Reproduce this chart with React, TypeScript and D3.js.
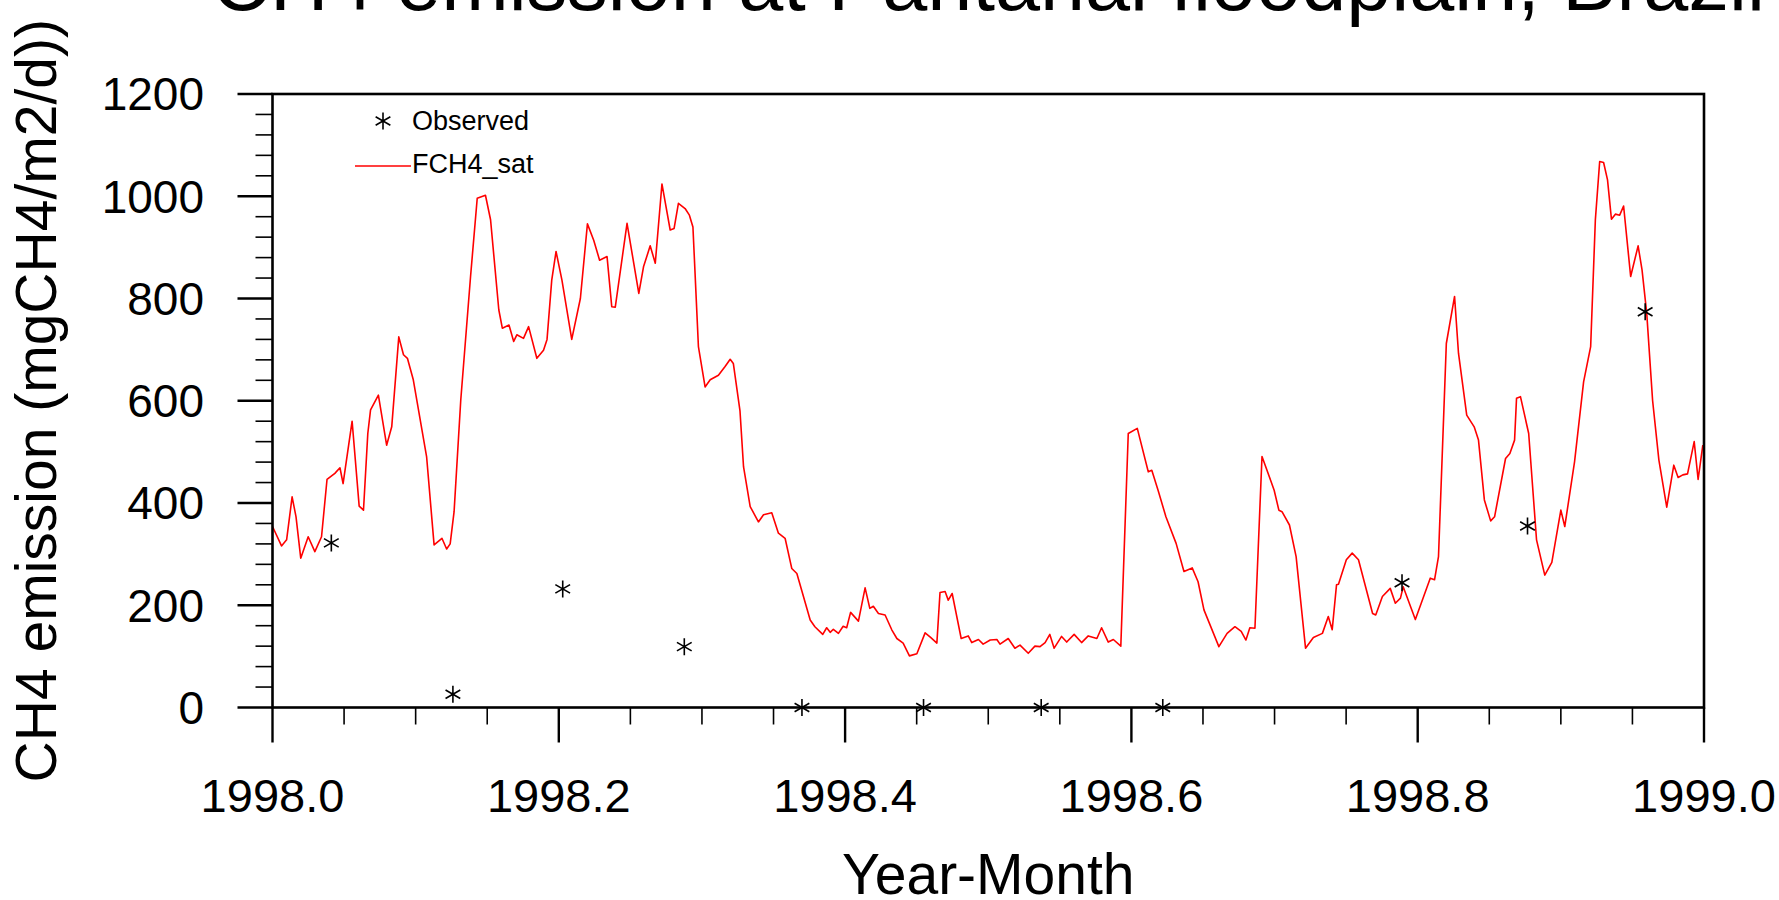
import React from "react";
import * as d3 from "d3";

// ---- Data ----
const fch4Day: number[] = [
  0, 2.3, 3.6, 5.0, 6.0, 7.2, 9.1, 10.8, 12.5, 13.9, 15.9, 17.2, 18.0, 20.3, 22.1, 23.2, 24.3, 25.0, 27.0, 29.1,
  30.4, 32.2, 33.4, 34.4, 35.9, 39.3, 41.2, 43.2, 44.4, 45.3, 46.3, 48.0, 50.5, 52.2, 54.3, 55.6, 57.7, 58.6, 60.3, 61.5,
  62.3, 64.0, 65.3, 67.4, 69.1, 70.0, 71.2, 72.3, 73.8, 76.3, 78.5, 80.3, 81.9, 83.4, 85.3, 86.5, 87.4, 90.4, 93.4, 94.6,
  96.3, 97.6, 99.3, 101.4, 102.4, 103.5, 105.2, 106.3, 107.2, 108.6, 110.3, 111.6, 113.7, 115.4, 116.7, 117.5, 119.2, 120.1, 121.8, 123.9,
  125.2, 127.3, 129.0, 130.7, 132.4, 133.7, 137.1, 138.3, 140.3, 141.3, 142.2, 143.0, 144.3, 145.5, 146.4, 147.4, 149.4, 151.1, 152.3, 153.2,
  154.5, 156.2, 157.9, 159.2, 160.8, 162.4, 164.3, 166.4, 167.8, 169.4, 170.2, 171.5, 172.3, 173.3, 175.6, 177.4, 178.3, 180.0, 181.2, 183.0,
  184.7, 185.5, 187.6, 189.3, 190.6, 192.7, 194.4, 195.7, 197.0, 198.2, 199.3, 201.2, 202.5, 204.4, 206.3, 208.0, 210.2, 211.4, 213.1, 214.4,
  216.3, 218.2, 220.5, 223.3, 224.2, 225.8, 227.8, 230.4, 232.4, 234.5, 236.0, 237.5, 241.3, 243.4, 245.4, 247.0, 248.2, 249.2, 250.5, 252.3,
  255.4, 256.6, 257.4, 259.3, 261.0, 263.4, 265.4, 267.7, 269.2, 270.2, 271.3, 271.8, 273.8, 275.3, 276.9, 280.5, 281.3, 283.0, 285.0, 286.3,
  287.6, 288.3, 291.4, 295.2, 296.3, 297.3, 299.3, 301.4, 302.4, 304.5, 306.4, 307.5, 309.0, 310.6, 311.6, 314.4, 315.5, 316.7, 317.2, 318.2,
  320.3, 322.3, 324.4, 326.2, 328.5, 329.5, 332.0, 334.3, 336.1, 337.3, 338.4, 339.4, 340.4, 341.4, 342.4, 343.5, 344.5, 346.3, 348.2, 349.2,
  350.4, 351.9, 353.5, 355.5, 357.3, 358.4, 359.6, 360.8, 362.5, 363.5, 364.7,
];
const fch4Value: number[] = [
  354, 316, 328, 412, 373, 292, 334, 305, 334, 446, 458, 469, 438, 560, 394, 386, 536, 582, 611, 513,
  549, 725, 690, 683, 641, 490, 318, 331, 310, 320, 383, 601, 843, 996, 1002, 954, 778, 742, 748, 716,
  729, 722, 745, 683, 699, 720, 836, 892, 836, 720, 800, 946, 914, 875, 882, 784, 783, 947, 810, 862,
  903, 869, 1024, 934, 937, 986, 976, 963, 940, 706, 627, 641, 650, 667, 681, 673, 580, 471, 393, 363,
  377, 381, 341, 331, 272, 262, 171, 158, 143, 156, 147, 153, 145, 159, 156, 186, 169, 234, 194, 198,
  184, 181, 152, 135, 126, 101, 105, 146, 137, 126, 225, 227, 210, 223, 135, 140, 127, 133, 124, 132,
  133, 124, 135, 116, 122, 106, 120, 119, 127, 143, 116, 139, 128, 143, 127, 140, 135, 156, 128, 133,
  120, 536, 546, 461, 464, 425, 373, 321, 266, 273, 246, 191, 119, 145, 158, 149, 132, 156, 155, 491,
  425, 386, 383, 357, 295, 116, 137, 145, 178, 152, 240, 241, 289, 302, 289, 184, 181, 217, 233, 204,
  214, 236, 172, 253, 250, 295, 712, 804, 693, 572, 549, 523, 406, 365, 373, 487, 497, 523, 605, 608,
  536, 328, 259, 284, 386, 354, 481, 637, 706, 954, 1068, 1066, 1032, 955, 965, 963, 981, 843, 903, 856,
  771, 600, 484, 392, 474, 450, 455, 457, 520, 446, 513,
];
const obsDay: number[] = [15, 46, 74, 105, 135, 166, 196, 227, 288, 320, 350];
const obsValue: number[] = [322, 26, 232, 119, 0, 0, 0, 0, 244, 355, 774];

const xMajorTicks: number[] = [1998.0, 1998.2, 1998.4, 1998.6, 1998.8, 1999.0];
const xTickLabels: string[] = ["1998.0", "1998.2", "1998.4", "1998.6", "1998.8", "1999.0"];
const xMinorStep = 0.05;
const yMajorTicks: number[] = [0, 200, 400, 600, 800, 1000, 1200];
const yMinorStep = 40;

const titleText = "CH4 emission at Pantanal floodplain, Brazil";
const xTitle = "Year-Month";
const yTitle = "CH4 emission (mgCH4/m2/d))";
const legendObs = "Observed";
const legendModel = "FCH4_sat";

// ---- Layout ----
const W = 1779;
const H = 900;
const L = 272.5;
const R = 1704;
const T = 94;
const B = 707.5;
const FONT = "'Liberation Sans', Arial, Helvetica, sans-serif";

function asteriskPath(cx: number, cy: number, r: number): string {
  const angles = [90, 30, -30].map((a) => (a * Math.PI) / 180);
  return angles
    .map((a) => {
      const dx = r * Math.cos(a);
      const dy = r * Math.sin(a);
      return `M${cx - dx},${cy - dy}L${cx + dx},${cy + dy}`;
    })
    .join("");
}

export default function App() {
  const x = d3.scaleLinear().domain([1998, 1999]).range([L, R]);
  const y = d3.scaleLinear().domain([0, 1200]).range([B, T]);
  const dayToYear = (d: number) => 1998 + d / 365;

  const linePts: [number, number][] = fch4Day.map((d, i) => [dayToYear(d), fch4Value[i]]);
  const lineGen = d3
    .line<[number, number]>()
    .x((p) => x(p[0]))
    .y((p) => y(p[1]));

  const xMinor = d3.range(1998, 1999.0001, xMinorStep).filter(
    (v) => !xMajorTicks.some((m) => Math.abs(m - v) < 1e-6)
  );
  const yMinor = d3.range(0, 1200.001, yMinorStep).filter(
    (v) => !yMajorTicks.some((m) => Math.abs(m - v) < 1e-6)
  );

  const majorLen = 35;
  const minorLen = 17;

  return (
    <svg
      width={W}
      height={H}
      viewBox={`0 0 ${W} ${H}`}
      style={{ position: "absolute", left: 0, top: 0, display: "block", background: "#fff" }}
      fontFamily={FONT}
    >
      <rect x={0} y={0} width={W} height={H} fill="#fff" />
      {/* Title */}
      <text x={(L + R) / 2} y={10} fontSize={81} textAnchor="middle" fill="#000">
        {titleText}
      </text>

      {/* Data line */}
      <path d={lineGen(linePts) || ""} fill="none" stroke="#ff0000" strokeWidth={1.6} strokeLinejoin="round" />

      {/* Observed markers */}
      {obsDay.map((d, i) => (
        <path
          key={"o" + i}
          d={asteriskPath(x(dayToYear(d)), y(obsValue[i]), 8.5)}
          stroke="#000"
          strokeWidth={1.6}
          fill="none"
        />
      ))}

      {/* Frame */}
      <rect x={L} y={T} width={R - L} height={B - T} fill="none" stroke="#000" strokeWidth={2.6} />

      {/* X ticks */}
      {xMajorTicks.map((v, i) => (
        <g key={"xm" + i}>
          <line x1={x(v)} x2={x(v)} y1={B} y2={B + majorLen} stroke="#000" strokeWidth={2.4} />
          <text x={x(v)} y={812} fontSize={47} textAnchor="middle" fill="#000">
            {xTickLabels[i]}
          </text>
        </g>
      ))}
      {xMinor.map((v, i) => (
        <line key={"xn" + i} x1={x(v)} x2={x(v)} y1={B} y2={B + minorLen} stroke="#000" strokeWidth={1.6} />
      ))}

      {/* Y ticks */}
      {yMajorTicks.map((v, i) => (
        <g key={"ym" + i}>
          <line x1={L - majorLen} x2={L} y1={y(v)} y2={y(v)} stroke="#000" strokeWidth={2.4} />
          <text x={204} y={y(v) + 0.358 * 46} fontSize={46} textAnchor="end" fill="#000">
            {String(v)}
          </text>
        </g>
      ))}
      {yMinor.map((v, i) => (
        <line key={"yn" + i} x1={L - minorLen} x2={L} y1={y(v)} y2={y(v)} stroke="#000" strokeWidth={1.6} />
      ))}

      {/* Axis titles */}
      <text x={(L + R) / 2} y={894} fontSize={57} textAnchor="middle" fill="#000">
        {xTitle}
      </text>
      <text
        transform={`translate(56, ${(T + B) / 2}) rotate(-90)`}
        fontSize={57}
        textAnchor="middle"
        fill="#000"
      >
        {yTitle}
      </text>

      {/* Legend */}
      <path d={asteriskPath(383, 121, 8.5)} stroke="#000" strokeWidth={1.6} fill="none" />
      <text x={412} y={129.5} fontSize={27} fill="#000">
        {legendObs}
      </text>
      <line x1={355} x2={411} y1={166} y2={166} stroke="#ff0000" strokeWidth={1.6} />
      <text x={412} y={173} fontSize={27} fill="#000">
        {legendModel}
      </text>
    </svg>
  );
}
